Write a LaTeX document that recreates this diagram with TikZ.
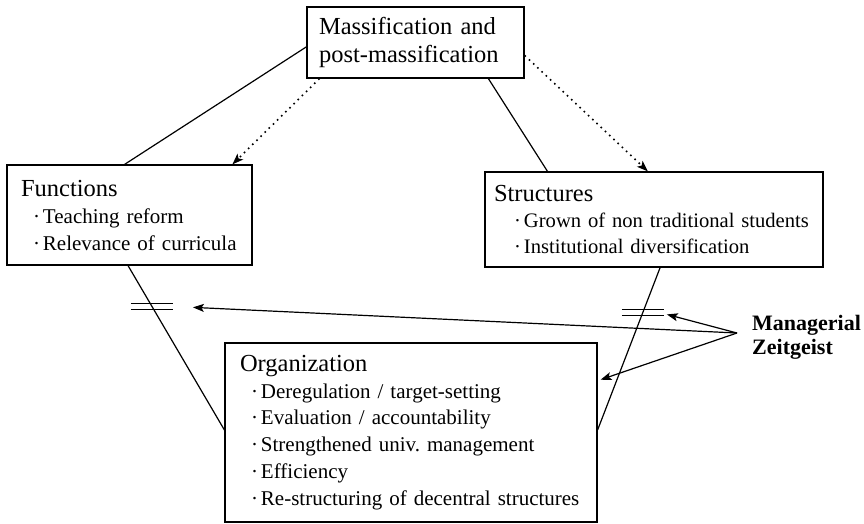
\documentclass[tikz,border=0pt]{standalone}
\usepackage{fontspec}
\setmainfont{Liberation Serif}
\usetikzlibrary{arrows.meta,calc}
\frenchspacing
\newcommand{\itm}[2]{\mbox{\makebox[#1][r]{·\hspace{3pt}}#2}}
\begin{document}
\begin{tikzpicture}[x=1pt,y=-1pt,
  box/.style={draw, line width=1.2pt, align=left, inner ysep=0pt},
  ln/.style={line width=1.2pt},
  arr/.style={line width=1.2pt, -{Stealth[length=11pt,width=8pt,inset=2.5pt]}},
  dotarr/.style={line width=1.6pt, dash pattern=on 1.6pt off 4.2pt, -{Stealth[length=11pt,width=8pt,inset=2.5pt]}},
  titlef/.style={font=\fontsize{24.5}{28}\selectfont},
  itemf/.style={font=\fontsize{21}{27}\selectfont}]
\useasboundingbox (0,0) rectangle (864,524);

\node[box, titlef, minimum height=71pt, text width=193pt, inner xsep=12pt] (m) at (415.5,42.5)
  {Massification and\\post-massification};

\node[box, itemf, minimum height=100pt, text width=217pt, inner xsep=14pt] (f) at (129.5,215)
  {{\fontsize{24.5}{27}\selectfont Functions}\\
   \itm{22pt}{Teaching reform}\\
   \itm{22pt}{Relevance of curricula}};

\node[box, font=\fontsize{20.6}{26}\selectfont, minimum height=95pt, text width=320pt, inner xsep=9pt] (s) at (654,219.5)
  {{\fontsize{24.5}{27}\selectfont Structures}\\
   \itm{30pt}{Grown of non traditional students}\\
   \itm{30pt}{Institutional diversification}};

\node[box, font=\fontsize{21}{26.7}\selectfont, minimum height=179pt, text width=342pt, inner xsep=15pt] (o) at (411,432.5)
  {{\fontsize{24.5}{26.7}\selectfont Organization}\\
   \itm{21pt}{Deregulation / target-setting}\\
   \itm{21pt}{Evaluation / accountability}\\
   \itm{21pt}{Strengthened univ. management}\\
   \itm{21pt}{Efficiency}\\
   \itm{21pt}{Re-structuring of decentral structures}};

\node[anchor=west, inner sep=0pt, align=left, font=\bfseries\fontsize{22}{24}\selectfont] (zg) at (752,337)
  {Managerial\\Zeitgeist};

% solid connectors
\draw[ln] ($(m.north west)!0.56!(m.south west)$) -- ($(f.north west)!0.48!(f.north east)$);
\draw[ln] ($(m.south west)!0.834!(m.south east)$) -- ($(s.north west)!0.186!(s.north east)$);
\draw[ln] ($(f.south west)!0.494!(f.south east)$) -- coordinate[pos=0.248] (b1) ($(o.north west)!0.486!(o.south west)$);
\draw[ln] ($(s.south west)!0.518!(s.south east)$) -- coordinate[pos=0.276] (b2) ($(o.north east)!0.486!(o.south east)$);

% dotted arrows
\draw[dotarr] ($(m.south west)!0.06!(m.south east)$) -- ($(f.north west)!0.918!(f.north east)$);
\draw[dotarr] ($(m.north east)!0.68!(m.south east)$) -- ($(s.north west)!0.482!(s.north east)$);

% double bars
\draw[ln] ([shift={(-21,-3)}]b1) -- ++(42,0);
\draw[ln] ([shift={(-21,3)}]b1) -- ++(42,0);
\draw[ln] ([shift={(-21,-3)}]b2) -- ++(42,0);
\draw[ln] ([shift={(-21,3)}]b2) -- ++(42,0);

% managerial zeitgeist arrows
\coordinate (z0) at (737,333);
\draw[arr] (z0) -- ([shift={(41,1)}]b1);
\draw[arr] (z0) -- ([shift={(24,2)}]b2);
\draw[arr] (z0) -- ([xshift=3pt]$(o.north east)!0.207!(o.south east)$);
\end{tikzpicture}
\end{document}
